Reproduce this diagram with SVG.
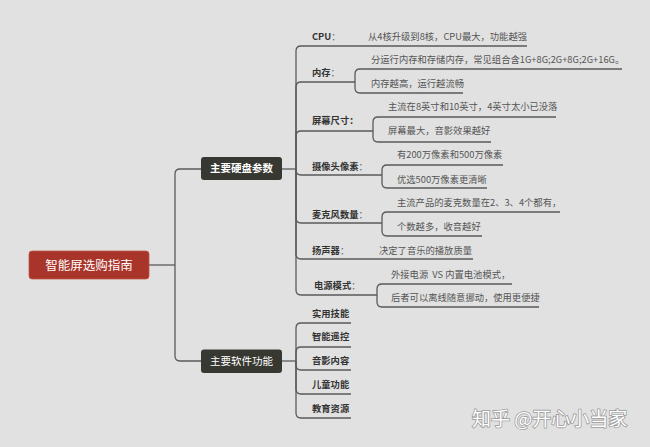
<svg xmlns="http://www.w3.org/2000/svg" width="650" height="447" viewBox="0 0 650 447">
<style>
text{font-family:"Noto Sans CJK SC","Noto Sans",sans-serif}
.ln{fill:none;stroke:#5a5a5a;stroke-width:1.3}
.lb{font-size:9.3px;font-weight:bold;fill:#333}
.ct{font-size:9.3px;fill:#555;white-space:pre}
.bx{fill:#383832}
.bt{font-size:10.5px;fill:#fff;text-anchor:middle}
</style>
<rect width="650" height="447" fill="#e1e1e1"/>
<g id="connectors" class="ln">
<path d="M149,265 L175,265"/>
<path d="M175,265 L175,174 Q175,169 180,169 L201,169"/>
<path d="M175,265 L175,356 Q175,361 180,361 L201,361"/>
<path d="M282,169 L296,169"/>
<path d="M296,169 L296,51 Q296,46 301,46 L527,46"/>
<path d="M296,169 L296,87 Q296,82 301,82 L355,82"/>
<path d="M296,169 L296,136 Q296,131 301,131 L373,131"/>
<path d="M296,169 L296,170 Q296,175 301,175 L382,175"/>
<path d="M296,169 L296,218 Q296,223 301,223 L382,223"/>
<path d="M296,169 L296,254 Q296,259 301,259 L473,259"/>
<path d="M296,169 L296,290 Q296,295 301,295 L377,295"/>
<path d="M355,82 L355,74 Q355,69 360,69 L622,69"/>
<path d="M355,82 L355,88 Q355,93 360,93 L463,93"/>
<path d="M373,131 L373,122 Q373,117 378,117 L556,117"/>
<path d="M373,131 L373,137 Q373,142 378,142 L491,142"/>
<path d="M382,175 L382,170 Q382,165 387,165 L503,165"/>
<path d="M382,175 L382,183 Q382,188 387,188 L487,188"/>
<path d="M382,223 L382,217 Q382,212 387,212 L560,212"/>
<path d="M382,223 L382,231 Q382,236 387,236 L482,236"/>
<path d="M377,295 L377,289 Q377,284 382,284 L512,284"/>
<path d="M377,295 L377,302 Q377,307 382,307 L539,307"/>
<path d="M282,361 L296,361"/>
<path d="M296,361 L296,328 Q296,323 301,323 L351,323"/>
<path d="M296,361 L296,352 Q296,347 301,347 L351,347"/>
<path d="M296,361 L296,365 Q296,370 301,370 L351,370"/>
<path d="M296,361 L296,389 Q296,394 301,394 L351,394"/>
<path d="M296,361 L296,413 Q296,418 301,418 L351,418"/>
</g>
<g id="root">
<rect x="29" y="251" width="120" height="28" rx="3" fill="#a8342a" stroke="#c0574a" stroke-width="0.8"/>
<text x="89" y="269.5" font-size="12.5" fill="#fff" text-anchor="middle">智能屏选购指南</text>
</g>
<g id="hw">
<rect class="bx" x="201" y="157" width="81" height="23" rx="3"/>
<text class="bt" x="241.5" y="172" font-weight="bold">主要硬盘参数</text>
</g>
<g id="sw">
<rect class="bx" x="201" y="349.5" width="81" height="23.5" rx="3"/>
<text class="bt" x="241.5" y="365">主要软件功能</text>
</g>
<g id="cpu"><text class="lb" x="312" y="40">CPU<tspan font-weight="normal" fill="#666">：</tspan></text><text class="ct" x="368" y="40">从4核升级到8核，CPU最大，功能越强</text></g>
<g id="mem"><text class="lb" x="312" y="76">内存<tspan font-weight="normal" fill="#666">：</tspan></text><text class="ct" x="371" y="63.3">分运行内存和存储内存，常见组合含1G+8G;2G+8G;2G+16G。</text><text class="ct" x="371" y="87.3">内存越高，运行越流畅</text></g>
<g id="screen"><text class="lb" x="312" y="124">屏幕尺寸：</text><text class="ct" x="388" y="110.3">主流在8英寸和10英寸，4英寸太小已没落</text><text class="ct" x="388" y="134">屏幕最大，音影效果越好</text></g>
<g id="camera"><text class="lb" x="312" y="170">摄像头像素<tspan font-weight="normal" fill="#666">：</tspan></text><text class="ct" x="397" y="158.3">有200万像素和500万像素</text><text class="ct" x="397" y="182.6">优选500万像素更清晰</text></g>
<g id="mic"><text class="lb" x="312" y="218.3">麦克风数量<tspan font-weight="normal" fill="#666">：</tspan></text><text class="ct" x="397" y="206">主流产品的麦克数量在2、3、4个都有，</text><text class="ct" x="397" y="230">个数越多，收音越好</text></g>
<g id="speaker"><text class="lb" x="312" y="254">扬声器<tspan font-weight="normal" fill="#666">：</tspan></text><text class="ct" x="379" y="254">决定了音乐的播放质量</text></g>
<g id="power"><text class="lb" x="314" y="289.3">电源模式<tspan font-weight="normal" fill="#666">：</tspan></text><text class="ct" x="391" y="278.3">外接电源  VS 内置电池模式，</text><text class="ct" x="391" y="300.6">后者可以离线随意挪动，使用更便捷</text></g>
<g id="sw1"><text class="lb" x="312" y="316.6">实用技能</text></g>
<g id="sw2"><text class="lb" x="312" y="340">智能遥控</text></g>
<g id="sw3"><text class="lb" x="312" y="364.3">音影内容</text></g>
<g id="sw4"><text class="lb" x="312" y="388.3">儿童功能</text></g>
<g id="sw5"><text class="lb" x="312" y="411.6">教育资源</text></g>
<text x="472" y="426" font-size="19" fill="#fff" stroke="#9a9a9a" stroke-width="1.6" paint-order="stroke" style="white-space:pre">知乎 @开心小当家</text>
</svg>
